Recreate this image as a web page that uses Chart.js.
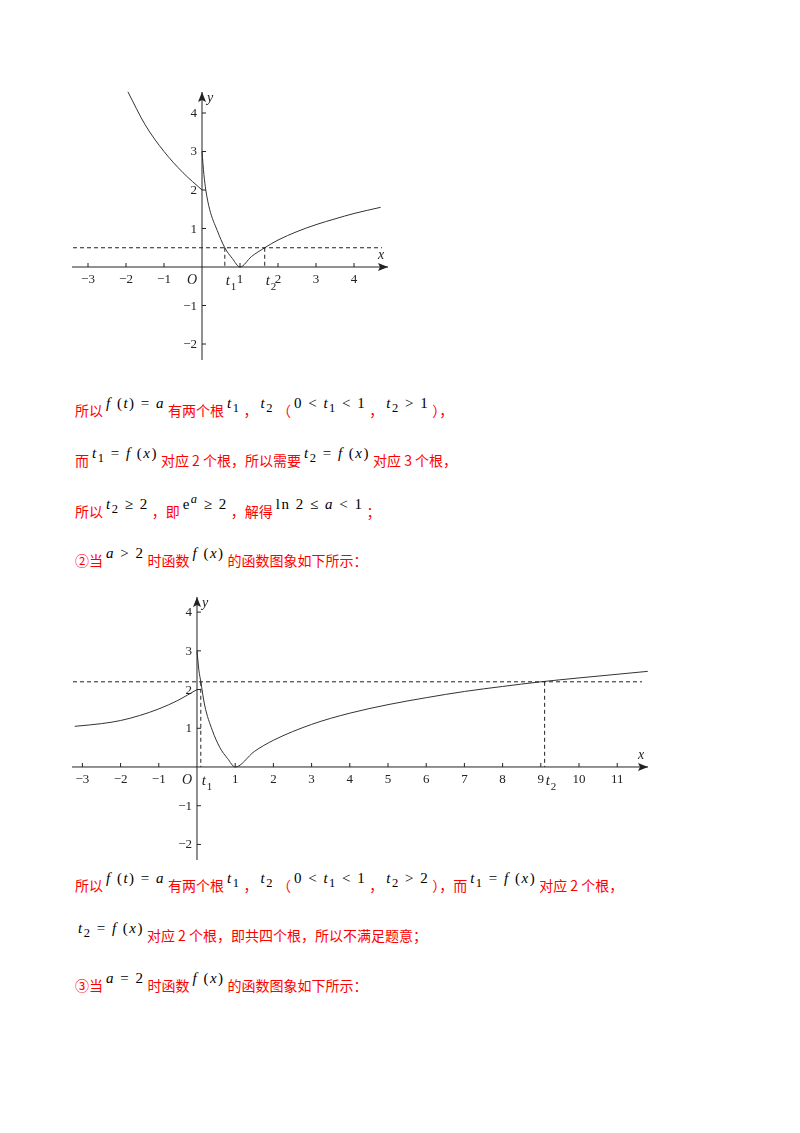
<!DOCTYPE html>
<html><head><meta charset="utf-8">
<script src="https://cdn.jsdelivr.net/npm/chart.js@4.4.0/dist/chart.umd.min.js"></script>
<style>
body{margin:0;background:#fff;width:800px;height:1133px;position:relative;overflow:hidden;font-family:"Noto Sans CJK SC",sans-serif}
.cv{position:absolute}
.t{position:absolute;left:75px;color:#ff0000;font-size:14px;white-space:nowrap}
.m{font-family:"Liberation Serif",serif;color:#000;font-size:15px;position:relative;top:-8px;padding:0 3px;letter-spacing:1.5px}
.m i{font-style:italic}
</style></head><body>
<div class="cv" style="left:60px;top:80px;width:340px;height:290px"><canvas id="c1"></canvas></div>
<div class="cv" style="left:60px;top:585px;width:600px;height:285px"><canvas id="c2"></canvas></div>

<div class="t" style="top:400px">所以<span class="m"><i>f</i> (<i>t</i>) = <i>a</i></span>有两个根<span class="m"><i>t</i><sub>1</sub></span>，<span class="m"><i>t</i><sub>2</sub></span>（<span class="m">0 &lt; <i>t</i><sub>1</sub> &lt; 1</span>，<span class="m"><i>t</i><sub>2</sub> &gt; 1</span>），</div>
<div class="t" style="top:450px">而<span class="m"><i>t</i><sub>1</sub> = <i>f</i> (<i>x</i>)</span>对应 2 个根，所以需要<span class="m"><i>t</i><sub>2</sub> = <i>f</i> (<i>x</i>)</span>对应 3 个根，</div>
<div class="t" style="top:500px">所以<span class="m"><i>t</i><sub>2</sub> ≥ 2</span>，即<span class="m">e<sup><i>a</i></sup> ≥ 2</span>，解得<span class="m">ln 2 ≤ <i>a</i> &lt; 1</span>；</div>
<div class="t" style="top:550px">②当<span class="m"><i>a</i> &gt; 2</span>时函数<span class="m"><i>f</i> (<i>x</i>)</span>的函数图象如下所示：</div>
<div class="t" style="top:875px">所以<span class="m"><i>f</i> (<i>t</i>) = <i>a</i></span>有两个根<span class="m"><i>t</i><sub>1</sub></span>，<span class="m"><i>t</i><sub>2</sub></span>（<span class="m">0 &lt; <i>t</i><sub>1</sub> &lt; 1</span>，<span class="m"><i>t</i><sub>2</sub> &gt; 2</span>），而<span class="m"><i>t</i><sub>1</sub> = <i>f</i> (<i>x</i>)</span>对应 2 个根，</div>
<div class="t" style="top:925px"><span class="m"><i>t</i><sub>2</sub> = <i>f</i> (<i>x</i>)</span>对应 2 个根，即共四个根，所以不满足题意；</div>
<div class="t" style="top:975px">③当<span class="m"><i>a</i> = 2</span>时函数<span class="m"><i>f</i> (<i>x</i>)</span>的函数图象如下所示：</div>

<script>
// chart 1 data
const left1X = [-1.95, -1.5, -1, -0.5, 0];
const left1Y = [4.55, 3.7, 3.0, 2.45, 2.0];
const right1X = [0, 0.05, 0.1, 0.2, 0.4, 0.6, 0.8, 1, 1.3, 1.65, 2, 2.5, 3, 3.5, 4, 4.7];
const right1Y = [3, 2.4, 2.0, 1.5, 0.95, 0.5, 0.22, 0, 0.27, 0.5, 0.7, 0.92, 1.1, 1.25, 1.39, 1.55];
const level1 = 0.5, t1a = 0.6, t2a = 1.65;
const xTicks1 = [-3, -2, -1, 1, 2, 3, 4];
const yTicks = [-2, -1, 1, 2, 3, 4];

// chart 2 data
const left2X = [-3.2, -2.5, -2, -1.5, -1, -0.5, 0];
const left2Y = [1.05, 1.12, 1.2, 1.33, 1.5, 1.72, 2.0];
const right2X = [0, 0.05, 0.1, 0.2, 0.4, 0.6, 0.8, 1, 1.5, 2, 3, 4, 5, 6, 7, 8, 9, 10, 11.8];
const right2Y = [3, 2.5, 2.2, 1.6, 0.95, 0.5, 0.22, 0, 0.4, 0.69, 1.1, 1.39, 1.61, 1.79, 1.95, 2.08, 2.2, 2.3, 2.47];
const level2 = 2.2, t1b = 0.1, t2b = 9.1;
const xTicks2 = [-3, -2, -1, 1, 2, 3, 4, 5, 6, 7, 8, 9, 10, 11];

const pts = (xs, ys) => xs.map((x, i) => ({ x, y: ys[i] }));
const line = (data) => ({ data, showLine: true, pointRadius: 0, borderColor: '#333', borderWidth: 1, cubicInterpolationMode: 'monotone', fill: false });

function axesPlugin(xTicks, lvl, t1, t2) {
    return {
        id: 'axes',
        afterDraw(chart) {
            const c = chart.ctx, xs = chart.scales.x, ys = chart.scales.y, a = chart.chartArea;
            const X = v => xs.getPixelForValue(v), Y = v => ys.getPixelForValue(v);
            c.save();
            c.strokeStyle = '#222'; c.fillStyle = '#222'; c.lineWidth = 1;
            // axes
            c.beginPath(); c.moveTo(a.left + 12, Y(0)); c.lineTo(a.right - 12, Y(0));
            c.moveTo(X(0), a.bottom - 10); c.lineTo(X(0), a.top + 12); c.stroke();
            c.beginPath(); c.moveTo(a.right - 12, Y(0)); c.lineTo(a.right - 22, Y(0) - 4); c.lineTo(a.right - 20, Y(0)); c.lineTo(a.right - 22, Y(0) + 4); c.closePath(); c.fill();
            c.beginPath(); c.moveTo(X(0), a.top + 12); c.lineTo(X(0) - 4, a.top + 22); c.lineTo(X(0), a.top + 20); c.lineTo(X(0) + 4, a.top + 22); c.closePath(); c.fill();
            c.font = '13px "Liberation Serif"'; c.textAlign = 'center';
            xTicks.forEach(v => {
                c.beginPath(); c.moveTo(X(v), Y(0)); c.lineTo(X(v), Y(0) - 4); c.stroke();
                c.fillText(v < 0 ? '\u2212' + (-v) : String(v), X(v), Y(0) + 16);
            });
            c.textAlign = 'right';
            yTicks.forEach(v => {
                c.beginPath(); c.moveTo(X(0), Y(v)); c.lineTo(X(0) + 4, Y(v)); c.stroke();
                c.fillText(v < 0 ? '\u2212' + (-v) : String(v), X(0) - 5, Y(v) + 4);
            });
            c.font = 'italic 14px "Liberation Serif"';
            c.fillText('O', X(0) - 5, Y(0) + 17);
            c.textAlign = 'left';
            c.fillText('x', a.right - 22, Y(0) - 8);
            c.fillText('y', X(0) + 5, a.top + 22);
            // dashed level line + drops
            c.setLineDash([4, 3]);
            c.beginPath(); c.moveTo(a.left + 13, Y(lvl)); c.lineTo(a.right - 18, Y(lvl));
            [t1, t2].forEach(t => { c.moveTo(X(t), Y(lvl)); c.lineTo(X(t), Y(0)); });
            c.stroke(); c.setLineDash([]);
            // t labels
            [[t1, '1'], [t2, '2']].forEach(([t, s]) => {
                c.font = 'italic 15px "Liberation Serif"'; c.fillText('t', X(t) + 1, Y(0) + 18);
                c.font = '11px "Liberation Serif"'; c.fillText(s, X(t) + 6, Y(0) + 23);
            });
            c.restore();
        }
    };
}

function make(id, sets, xmin, xmax, ymin, ymax, plugin) {
    new Chart(document.getElementById(id), {
        type: 'scatter',
        data: { datasets: sets },
        options: {
            responsive: true, maintainAspectRatio: false, animation: false,
            layout: { padding: 0 },
            plugins: { legend: { display: false }, tooltip: { enabled: false } },
            scales: {
                x: { type: 'linear', min: xmin, max: xmax, display: false },
                y: { type: 'linear', min: ymin, max: ymax, display: false }
            }
        },
        plugins: [plugin]
    });
}

make('c1', [line(pts(left1X, left1Y)), line(pts(right1X, right1Y))],
    -3.737, 5.21, -2.675, 4.857, axesPlugin(xTicks1, level1, t1a, t2a));
make('c2', [line(pts(left2X, left2Y)), line(pts(right2X, right2Y))],
    -3.586, 12.12, -2.66, 4.70, axesPlugin(xTicks2, level2, t1b, t2b));
</script>
</body></html>
